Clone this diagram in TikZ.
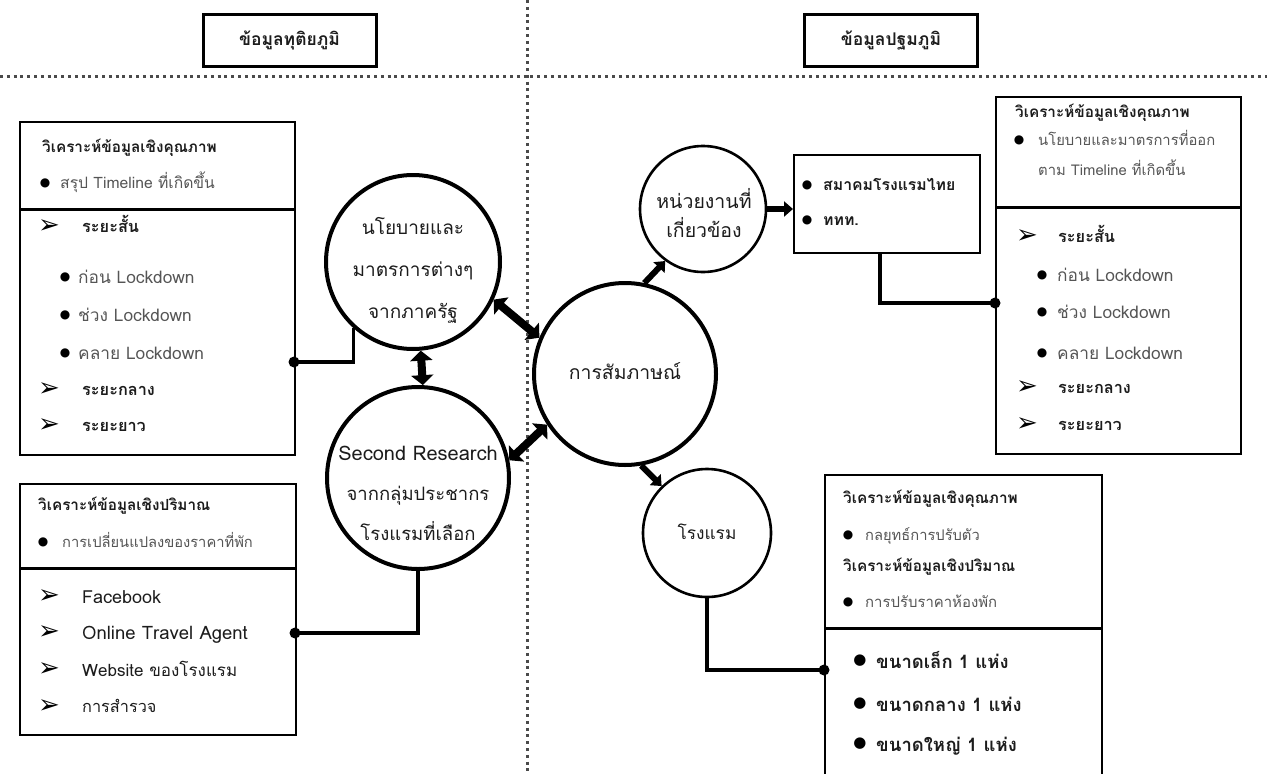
\documentclass[tikz,border=0pt]{standalone}
\usepackage{fontspec}
\setmainfont[Script=Thai]{Loma}
\newfontfamily\symfont{DejaVu Sans}
\usetikzlibrary{arrows.meta}
\definecolor{ink}{HTML}{1C1C1C}
\definecolor{soft}{HTML}{555555}
\definecolor{dotgray}{HTML}{4A4A4A}
\newcommand\fs[1]{\fontsize{#1}{#1}\selectfont}

\begin{document}
\begin{tikzpicture}[x=1pt,y=-1pt,
  guide/.style={draw=dotgray,line width=3pt,dash pattern=on 3pt off 3.8pt},
  headbox/.style={draw=black,line width=3pt,minimum width=173pt,minimum height=52pt,inner sep=0pt,font=\fs{17.5}\bfseries,text=ink},
  panel/.style={draw=black,line width=1.8pt,anchor=north west,inner sep=0pt},
  divider/.style={draw=black,line width=3pt},
  ring/.style={circle,draw=black,line width=4pt,inner sep=0pt},
  thinring/.style={ring,line width=2.6pt},
  circtext/.style={align=center,inner sep=0pt,text=ink},
  ttl/.style={anchor=base west,inner sep=0pt,font=\fs{15.3}\bfseries,text=ink},
  itm/.style={anchor=base west,inner sep=0pt,font=\fs{15},text=soft},
  lkd/.style={anchor=base west,inner sep=0pt,font=\fs{17.3},text=soft},
  bitm/.style={anchor=base west,inner sep=0pt,font=\fs{16.3}\bfseries,text=ink},
  ritm/.style={anchor=base west,inner sep=0pt,text=ink},
  bul/.style={inner sep=0pt,font=\symfont\fs{12},text=black},
  tipm/.style={anchor=west,inner sep=0pt,font=\symfont\fs{26},text=black},
  conn/.style={draw=black,line width=3.4pt},
  jdot/.style={fill=black},
  dblarrow/.style={draw=black,line width=8pt,{Triangle[length=10pt,width=22pt]}-{Triangle[length=10pt,width=22pt]}},
  onearrow/.style={draw=black,line width=6pt,-{Triangle[length=9pt,width=15pt]}}
]
\useasboundingbox (0,0) rectangle (1267,774);

% dotted guide lines splitting the two halves
\coordinate (gl) at (0,76);
\coordinate (gr) at (1267,76);
\coordinate (gt) at (527,0);
\coordinate (gb) at (527,774);
\draw[guide] (gl) -- (gr);
\draw[guide] (gt) -- (gb);

% section headers
\node[headbox] (h1) at (289.5,40) {ข้อมูลทุติยภูมิ};
\node[headbox] (h2) at (891,40) {ข้อมูลปฐมภูมิ};

% ---------- left upper panel ----------
\node[panel,minimum width=275pt,minimum height=88pt] (lt1) at (19,121) {};
\node[panel,minimum width=275pt,minimum height=245pt] (lt2) at (19,209) {};
\draw[divider] (lt2.north west) -- (lt2.north east);
\node[ttl] (lt1a) at (42,152) {วิเคราะห์ข้อมูลเชิงคุณภาพ};
\node[bul] (lt1b) at (45,183) {●};
\node[itm,font=\fs{15.7}] (lt1c) at (60,188) {สรุป Timeline ที่เกิดขึ้น};
\node[tipm] (lt2a) at (38,227) {➢};
\node[bitm] (lt2b) at (82,232) {ระยะสั้น};
\node[bul] (lt2c) at (65,277) {●};
\node[lkd] (lt2d) at (78,283) {ก่อน Lockdown};
\node[bul] (lt2e) at (65,315) {●};
\node[lkd] (lt2f) at (78,321) {ช่วง Lockdown};
\node[bul] (lt2g) at (65,353) {●};
\node[lkd] (lt2h) at (78,359) {คลาย Lockdown};
\node[tipm] (lt2i) at (38,390) {➢};
\node[bitm] (lt2j) at (82,395) {ระยะกลาง};
\node[tipm] (lt2k) at (38,426) {➢};
\node[bitm] (lt2l) at (82,431) {ระยะยาว};

% ---------- left lower panel ----------
\node[panel,minimum width=276pt,minimum height=85pt] (lb1) at (19,483) {};
\node[panel,minimum width=276pt,minimum height=166pt] (lb2) at (19,568) {};
\draw[divider] (lb2.north west) -- (lb2.north east);
\node[ttl] (lb1a) at (38,510) {วิเคราะห์ข้อมูลเชิงปริมาณ};
\node[bul] (lb1b) at (43,542) {●};
\node[itm,font=\fs{14.7}] (lb1c) at (62,547) {การเปลี่ยนแปลงของราคาที่พัก};
\node[tipm] (lb2a) at (38,597) {➢};
\node[ritm,font=\fs{18}] (lb2b) at (82,603) {Facebook};
\node[tipm] (lb2c) at (38,633) {➢};
\node[ritm,font=\fs{18.5}] (lb2d) at (82,639) {Online Travel Agent};
\node[tipm] (lb2e) at (38,670) {➢};
\node[ritm,font=\fs{17}] (lb2f) at (82,676) {Website ของโรงแรม};
\node[tipm] (lb2g) at (38,707) {➢};
\node[ritm,font=\fs{16.3}] (lb2h) at (82,712) {การสำรวจ};

% ---------- circles ----------
\node[ring,minimum size=174pt] (c1) at (413,262) {};
\node[circtext,font=\fontsize{19}{42}\selectfont] (c1t) at (413,270) {นโยบายและ\\มาตรการต่างๆ\\จากภาครัฐ};
\node[ring,minimum size=182pt] (c2) at (418,478) {};
\node[circtext,font=\fontsize{18.5}{40}\selectfont] (c2t) at (418,493) {{\fontsize{20}{40}\selectfont Second Research}\\จากกลุ่มประชากร\\โรงแรมที่เลือก};
\node[ring,minimum size=182pt] (c3) at (625,374) {};
\node[circtext,font=\fs{19.4}] (c3t) at (625,371) {การสัมภาษณ์};
\node[thinring,minimum size=126pt] (c5) at (703,209) {};
\node[circtext,font=\fontsize{19.5}{29}\selectfont] (c5t) at (704,213) {หน่วยงานที่\\เกี่ยวข้อง};
\node[thinring,minimum size=128pt] (c4) at (707,533) {};
\node[circtext,font=\fs{17.3}] (c4t) at (707,532) {โรงแรม};

% ---------- agencies box ----------
\node[panel,minimum width=186pt,minimum height=98pt] (rt1) at (793,154) {};
\node[bul] (rt1a) at (807,185) {●};
\node[bitm,font=\fs{15.8}\bfseries] (rt1b) at (823,190) {สมาคมโรงแรมไทย};
\node[bul] (rt1c) at (807,220) {●};
\node[bitm,font=\fs{15.8}\bfseries] (rt1d) at (823,225) {ททท.};

% ---------- right upper panel ----------
\node[panel,minimum width=245pt,minimum height=111pt] (rq1) at (995,96) {};
\node[panel,minimum width=245pt,minimum height=246pt] (rq2) at (995,207) {};
\draw[divider] (rq2.north west) -- (rq2.north east);
\node[ttl] (rq1a) at (1015,117) {วิเคราะห์ข้อมูลเชิงคุณภาพ};
\node[bul] (rq1b) at (1019,140) {●};
\node[itm,font=\fs{14.8}] (rq1c) at (1038,145) {นโยบายและมาตรการที่ออก};
\node[itm,font=\fs{14.8}] (rq1d) at (1038,175) {ตาม Timeline ที่เกิดขึ้น};
\node[tipm] (rq2a) at (1016,237) {➢};
\node[bitm] (rq2b) at (1058,242) {ระยะสั้น};
\node[bul] (rq2c) at (1042,275) {●};
\node[lkd] (rq2d) at (1057,281) {ก่อน Lockdown};
\node[bul] (rq2e) at (1042,312) {●};
\node[lkd] (rq2f) at (1057,318) {ช่วง Lockdown};
\node[bul] (rq2g) at (1042,353) {●};
\node[lkd] (rq2h) at (1057,359) {คลาย Lockdown};
\node[tipm] (rq2i) at (1016,388) {➢};
\node[bitm] (rq2j) at (1058,393) {ระยะกลาง};
\node[tipm] (rq2k) at (1016,425) {➢};
\node[bitm] (rq2l) at (1058,430) {ระยะยาว};

% ---------- right lower panel ----------
\node[panel,minimum width=277pt,minimum height=154pt] (rb1) at (824,474) {};
\node[panel,minimum width=277pt,minimum height=170pt] (rb2) at (824,628) {};
\draw[divider] (rb2.north west) -- (rb2.north east);
\node[ttl] (rb1a) at (843,503) {วิเคราะห์ข้อมูลเชิงคุณภาพ};
\node[bul] (rb1b) at (848,535) {●};
\node[itm,font=\fs{14.7}] (rb1c) at (865,540) {กลยุทธ์การปรับตัว};
\node[ttl] (rb1d) at (843,571) {วิเคราะห์ข้อมูลเชิงปริมาณ};
\node[bul] (rb1e) at (848,602) {●};
\node[itm,font=\fs{14.9}] (rb1f) at (865,607) {การปรับราคาห้องพัก};
\node[bul,font=\symfont\fs{15}] (rb2a) at (860,661) {●};
\node[bitm,font=\fs{18.5}\bfseries] (rb2b) at (876,668) {ขนาดเล็ก 1 แห่ง};
\node[bul,font=\symfont\fs{15}] (rb2c) at (860,704) {●};
\node[bitm,font=\fs{18.5}\bfseries] (rb2d) at (876,711) {ขนาดกลาง 1 แห่ง};
\node[bul,font=\symfont\fs{15}] (rb2e) at (860,744) {●};
\node[bitm,font=\fs{18.5}\bfseries] (rb2f) at (876,751) {ขนาดใหญ่ 1 แห่ง};

% ---------- junctions and connectors ----------
\coordinate (d1) at (294,362);
\coordinate (d2) at (295,633);
\coordinate (d3) at (995,303);
\coordinate (d4) at (824,670);
\coordinate (r1) at ([xshift=-7pt]rt1.south);
\draw[conn] (c1.228) |- (d1);
\draw[conn] (c2.south) |- (d2);
\draw[conn] (r1) |- (d3);
\draw[conn] (c4.south) |- (d4);
\foreach \d in {d1,d2,d3,d4} \fill[jdot] (\d) circle (5.5pt);

% ---------- arrows between circles ----------
\draw[dblarrow] (c1.-85) -- (c2.87);
\draw[dblarrow] (c1.-25) -- (c3.157);
\draw[dblarrow] (c2.11) -- (c3.213);
\draw[onearrow] (c3.78) -- (c5.234);
\draw[onearrow] (c3.-80) -- (c4.134);
\draw[onearrow] (c5.east) -- (c5.east -| rt1.west);
\end{tikzpicture}
\end{document}
